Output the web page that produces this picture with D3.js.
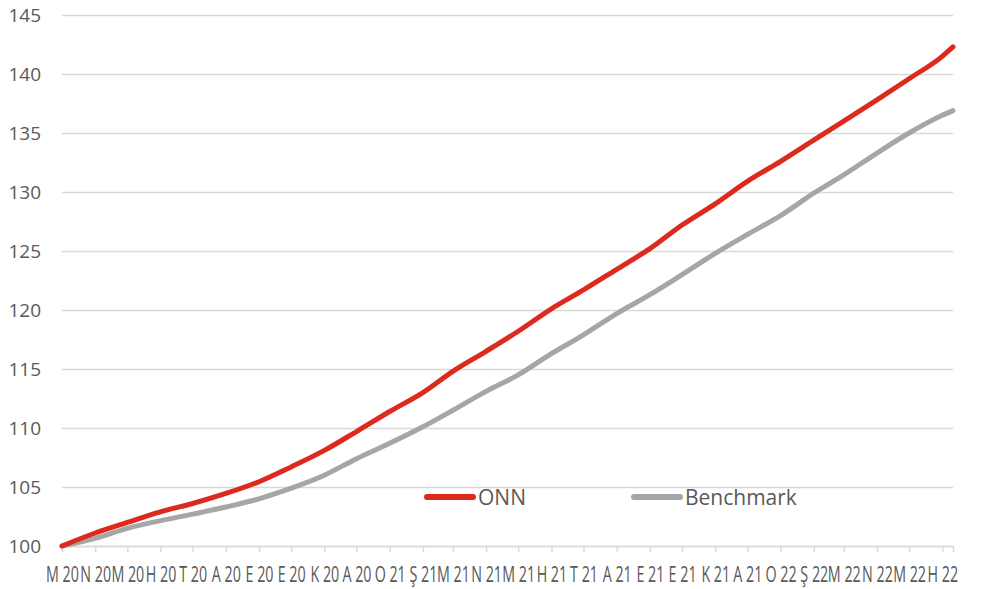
<!DOCTYPE html>
<html>
<head>
<meta charset="utf-8">
<script src="https://cdn.jsdelivr.net/npm/d3@7"></script>
<style>
    body { margin: 0; background: #fff; }
    text { font-family: "Open Sans", sans-serif; fill: #595959; }
</style>
</head>
<body>
<div id="chart"></div>
<script>
// month starts from Mar 2020 to Jun 2022, plus the last day of data
let dates = ["2020-03-01","2020-04-01","2020-05-01","2020-06-01","2020-07-01","2020-08-01","2020-09-01",
    "2020-10-01","2020-11-01","2020-12-01","2021-01-01","2021-02-01","2021-03-01","2021-04-01",
    "2021-05-01","2021-06-01","2021-07-01","2021-08-01","2021-09-01","2021-10-01","2021-11-01",
    "2021-12-01","2022-01-01","2022-02-01","2022-03-01","2022-04-01","2022-05-01","2022-06-01","2022-06-11"];

let onnValues = [100.0, 101.1, 102.0, 102.9, 103.6, 104.45, 105.45, 106.7, 108.1, 109.7, 111.4, 113.0,
    114.8, 116.5, 118.2, 120.1, 121.7, 123.45, 125.2, 127.2, 129.0, 130.9, 132.6, 134.4, 136.0,
    137.8, 139.6, 141.5, 142.3];

let benchmarkValues = [100.0, 100.65, 101.5, 102.15, 102.7, 103.3, 104.0, 104.9, 106.0, 107.4, 108.7, 110.1,
    111.5, 113.1, 114.5, 116.3, 117.9, 119.7, 121.3, 123.0, 124.8, 126.4, 128.0, 129.9, 131.45,
    133.3, 135.0, 136.5, 136.9];

let xTickLabels = ["M 20","N 20","M 20","H 20","T 20","A 20","E 20","E 20","K 20","A 20","O 21","Ş 21",
    "M 21","N 21","M 21","H 21","T 21","A 21","E 21","E 21","K 21","A 21","O 22","Ş 22",
    "M 22","N 22","M 22","H 22"];

let yTicks = [100, 105, 110, 115, 120, 125, 130, 135, 140, 145];

let seriesNames = ["ONN", "Benchmark"];
let seriesColors = ["#dc2a1f", "#a6a6a6"];

let parseDate = d3.timeParse("%Y-%m-%d");
let dateObjs = dates.map(parseDate);
let tickDates = dateObjs.slice(0, xTickLabels.length);

let svg = d3.select("#chart").append("svg")
    .attr("width", 982)
    .attr("height", 589);

let xScale = d3.scaleTime()
    .domain([dateObjs[0], dateObjs[dateObjs.length - 1]])
    .range([62, 953]);

let yScale = d3.scaleLinear()
    .domain([100, 145])
    .range([546, 15]);

//horizontal gridlines + y labels
let yAxis = svg.append("g")
    .attr("transform", "translate(62,0)")
    .call(d3.axisLeft(yScale).tickValues(yTicks).tickSize(-891).tickPadding(21));
yAxis.select(".domain").remove();
yAxis.selectAll(".tick line")
    .attr("stroke", "#d9d9d9")
    .attr("stroke-width", 1.5);
yAxis.selectAll(".tick text")
    .attr("font-size", 19)
    .attr("fill", "#595959")
    .style("font-family", "'Open Sans', sans-serif");

//x axis with month ticks
let xAxis = svg.append("g")
    .attr("transform", "translate(0,546)")
    .call(d3.axisBottom(xScale)
        .tickValues(tickDates)
        .tickFormat(function (d, i) { return xTickLabels[i]; })
        .tickSizeOuter(0)
        .tickSize(6)
        .tickPadding(15));
xAxis.select(".domain")
    .attr("stroke", "#d9d9d9")
    .attr("stroke-width", 1.5);
xAxis.selectAll(".tick line")
    .attr("stroke", "#d9d9d9")
    .attr("stroke-width", 1.5);
xAxis.selectAll(".tick text")
    .attr("font-size", 21)
    .attr("fill", "#595959")
    .attr("transform", "scale(0.68,1)")
    .style("font-family", "'Open Sans', sans-serif");

let line = d3.line()
    .x(function (d) { return xScale(d.date); })
    .y(function (d) { return yScale(d.value); })
    .curve(d3.curveMonotoneX);

let series = [benchmarkValues, onnValues];
let colors = [seriesColors[1], seriesColors[0]];

series.forEach(function (vals, k) {
    let pts = vals.map(function (v, i) { return {date: dateObjs[i], value: v}; });
    svg.append("path")
        .datum(pts)
        .attr("fill", "none")
        .attr("stroke", colors[k])
        .attr("stroke-width", 5)
        .attr("stroke-linejoin", "round")
        .attr("stroke-linecap", "round")
        .attr("d", line);
});

//legend
let legendX = [425, 632];
seriesNames.forEach(function (name, i) {
    let g = svg.append("g")
        .attr("transform", "translate(" + legendX[i] + ",497)");
    g.append("line")
        .attr("x1", 2).attr("x2", 48)
        .attr("y1", 0).attr("y2", 0)
        .attr("stroke", seriesColors[i])
        .attr("stroke-width", 6)
        .attr("stroke-linecap", "round");
    g.append("text")
        .attr("x", 53)
        .attr("y", 8)
        .attr("font-size", 21)
        .text(name);
});
</script>
</body>
</html>
